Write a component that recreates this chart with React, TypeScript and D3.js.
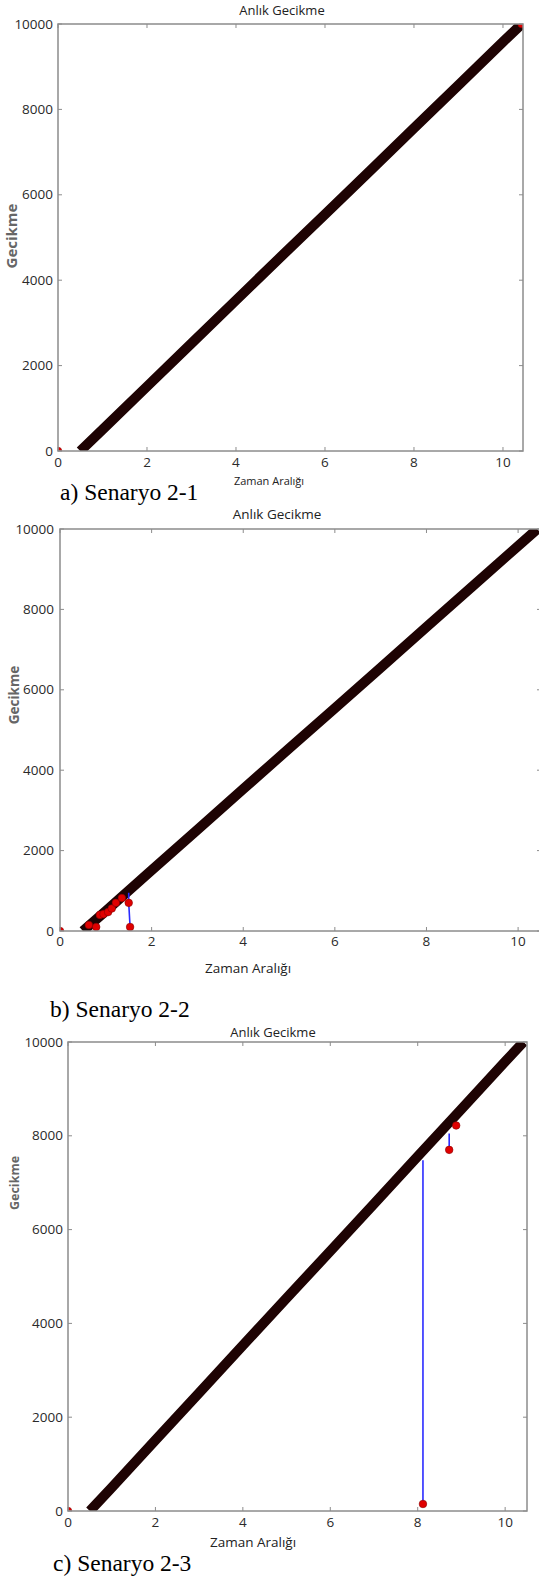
import React from "react";
import * as d3 from "d3";

// main delay line (same shape in all three runs)
const lineTime = [0.5, 1, 2, 3, 4, 5, 6, 7, 8, 9, 10, 10.42];
const lineDelay = [0, 500, 1510, 2520, 3530, 4540, 5540, 6550, 7560, 8570, 9580, 10000];

const xTicks = [0, 2, 4, 6, 8, 10];
const yTicks = [0, 2000, 4000, 6000, 8000, 10000];

// outliers per scenario: blue jumps + red points
const bJumpTime = [1.5, 1.5, 1.53];
const bJumpDelay = [950, 700, 100];
const bDotTime = [0, 0.63, 0.79, 0.87, 0.95, 1.05, 1.13, 1.22, 1.35, 1.5, 1.53];
const bDotDelay = [0, 150, 100, 400, 420, 470, 560, 700, 820, 700, 100];

const cJump1Time = [8.12, 8.12];
const cJump1Delay = [7480, 150];
const cJump2Time = [8.72, 8.72];
const cJump2Delay = [8050, 7700];
const cDotTime = [0, 8.12, 8.72, 8.88];
const cDotDelay = [0, 150, 7700, 8220];

const aDotTime = [0, 10.42];
const aDotDelay = [0, 10000];

const titleText = "Anlık Gecikme";
const xLabelText = "Zaman Aralığı";
const yLabelText = "Gecikme";

const panels = [
  {
    left: 58, right: 523, top: 24, bottom: 451, xMax: 10.45,
    titleX: 282, titleY: 15, titleSize: 13,
    xLabX: 269, xLabY: 485, xLabSize: 11,
    yLabX: 12, yLabY: 236, yLabSize: 15,
    xTickY: 467, yTickEnd: 53,
    caption: "a) Senaryo 2-1", capX: 60, capY: 500,
    jumps: [] as { t: number[]; d: number[] }[],
    dots: { t: aDotTime, d: aDotDelay },
  },
  {
    left: 60, right: 541, top: 529, bottom: 931, xMax: 10.5,
    titleX: 277, titleY: 519, titleSize: 13.5,
    xLabX: 248, xLabY: 973, xLabSize: 13.5,
    yLabX: 14, yLabY: 695, yLabSize: 13.5,
    xTickY: 946, yTickEnd: 54,
    caption: "b) Senaryo 2-2", capX: 50, capY: 1017,
    jumps: [{ t: bJumpTime, d: bJumpDelay }],
    dots: { t: bDotTime, d: bDotDelay },
  },
  {
    left: 68, right: 527, top: 1042, bottom: 1511, xMax: 10.5,
    titleX: 273, titleY: 1037, titleSize: 13,
    xLabX: 253, xLabY: 1547, xLabSize: 13.5,
    yLabX: 15, yLabY: 1183, yLabSize: 12.5,
    xTickY: 1527, yTickEnd: 63,
    caption: "c) Senaryo 2-3", capX: 53, capY: 1571,
    jumps: [
      { t: cJump1Time, d: cJump1Delay },
      { t: cJump2Time, d: cJump2Delay },
    ],
    dots: { t: cDotTime, d: cDotDelay },
  },
];

const axisGray = "#8c8c8c";
const sans = "'Open Sans', sans-serif";

const Panel = ({ p, idx }: { p: (typeof panels)[number]; idx: number }) => {
  const x = d3.scaleLinear().domain([0, p.xMax]).range([p.left, p.right]);
  const y = d3.scaleLinear().domain([0, 10000]).range([p.bottom, p.top]);
  const line = d3
    .line<number>()
    .x((i) => x(lineTime[i]))
    .y((i) => y(lineDelay[i]));
  const pts = (t: number[], d: number[]) =>
    d3
      .line<number>()
      .x((i) => x(t[i]))
      .y((i) => y(d[i]))(d3.range(t.length)) as string;

  return (
    <g>
      <clipPath id={`clip${idx}`}>
        <rect x={p.left} y={p.top} width={p.right - p.left} height={p.bottom - p.top} />
      </clipPath>
      <text x={p.titleX} y={p.titleY} textAnchor="middle" fontFamily={sans} fontSize={p.titleSize} fill="#222">
        {titleText}
      </text>
      <g clipPath={`url(#clip${idx})`}>
        <path
          d={line(d3.range(lineTime.length)) as string}
          fill="none"
          stroke="#1e0303"
          strokeWidth={10}
          strokeLinecap="butt"
        />
        {p.jumps.map((j, k) => (
          <path key={k} d={pts(j.t, j.d)} fill="none" stroke="#2b2bff" strokeWidth={1.6} />
        ))}
        {p.dots.t.map((t, k) => (
          <circle key={k} cx={x(t)} cy={y(p.dots.d[k])} r={3.8} fill="#e00000" stroke="#8a0000" strokeWidth={0.6} />
        ))}
      </g>
      <rect
        x={p.left}
        y={p.top}
        width={p.right - p.left}
        height={p.bottom - p.top}
        fill="none"
        stroke={axisGray}
        strokeWidth={1.5}
      />
      {xTicks.map((t) => (
        <g key={t}>
          <line x1={x(t)} x2={x(t)} y1={p.bottom} y2={p.bottom - 4} stroke={axisGray} />
          <line x1={x(t)} x2={x(t)} y1={p.top} y2={p.top + 4} stroke={axisGray} />
          <text x={x(t)} y={p.xTickY} textAnchor="middle" fontFamily={sans} fontSize={13.5} fill="#2a2a2a">
            {t}
          </text>
        </g>
      ))}
      {yTicks.map((t) => (
        <g key={t}>
          <line x1={p.left} x2={p.left + 4} y1={y(t)} y2={y(t)} stroke={axisGray} />
          <line x1={p.right} x2={p.right - 4} y1={y(t)} y2={y(t)} stroke={axisGray} />
          <text x={p.yTickEnd} y={y(t) + 4.5} textAnchor="end" fontFamily={sans} fontSize={13.5} fill="#2a2a2a">
            {t}
          </text>
        </g>
      ))}
      <text x={p.xLabX} y={p.xLabY} textAnchor="middle" fontFamily={sans} fontSize={p.xLabSize} fill="#222">
        {xLabelText}
      </text>
      <text
        transform={`translate(${p.yLabX},${p.yLabY}) rotate(-90)`}
        textAnchor="middle"
        dy="0.35em"
        fontFamily={sans}
        fontWeight="bold"
        fontSize={p.yLabSize}
        fill="#666"
      >
        {yLabelText}
      </text>
      <text x={p.capX} y={p.capY} fontFamily="'Liberation Serif', 'Times New Roman', serif" fontSize={23.5} fill="#000">
        {p.caption}
      </text>
    </g>
  );
};

export default function App() {
  return (
    <svg
      width={539}
      height={1578}
      style={{ position: "absolute", left: 0, top: 0, background: "#fff" }}
    >
      {panels.map((p, i) => (
        <Panel key={i} p={p} idx={i} />
      ))}
    </svg>
  );
}
